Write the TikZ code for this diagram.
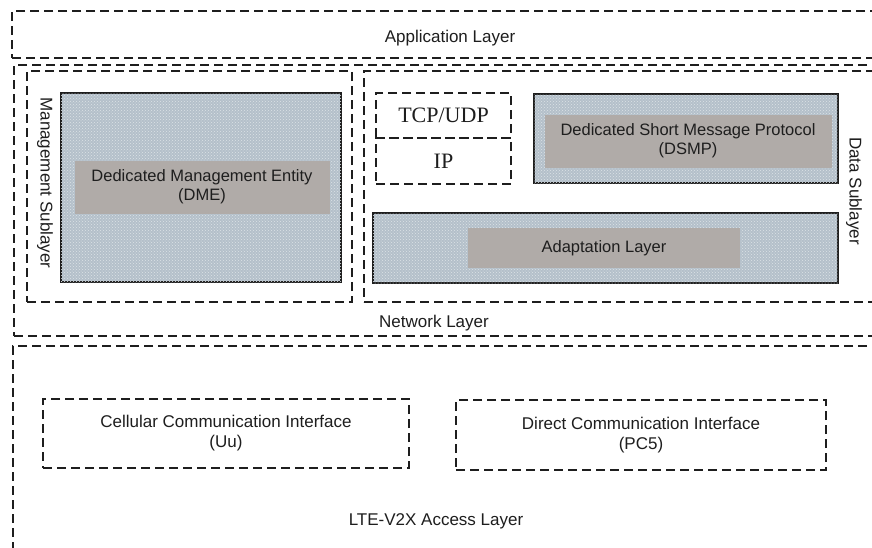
\documentclass[tikz,border=0pt]{standalone}
\usepackage{fontspec}
\setmainfont{Liberation Sans}
\newfontfamily\serifone{Liberation Serif}
\usetikzlibrary{patterns}
\definecolor{stip}{RGB}{180,192,202}
\definecolor{band}{RGB}{176,171,168}
\definecolor{ink}{RGB}{30,30,30}
\tikzset{
 dbox/.style={draw=ink, line width=2pt, dash pattern=on 9pt off 5pt, inner sep=0pt, anchor=north west},
 sbox/.style={draw=ink, line width=2.4pt, fill=stip, postaction={pattern=crosshatch dots, pattern color=white!55!stip}, inner sep=0pt, anchor=north west},
 bandlab/.style={fill=band, inner sep=0pt, font=\fontsize{16.5}{19}\selectfont, align=center, text=ink},
 lab/.style={font=\fontsize{17}{20}\selectfont, text=ink, align=center},
 sublab/.style={font=\fontsize{17}{20}\selectfont, text=ink, rotate=-90},
 serlab/.style={font=\serifone\fontsize{22}{24}\selectfont, text=ink}
}
\begin{document}
\begin{tikzpicture}[x=1pt,y=-1pt]
\useasboundingbox (0,0) rectangle (872,547);
\clip (0,0) rectangle (872,547);
\fill[white] (0,0) rectangle (872,547);
% Application layer
\node[dbox, minimum width=900pt, minimum height=47pt] (app) at (11,10) {};
\node[lab] (applab) at (450,38) {Application Layer};
% Network layer
\node[dbox, minimum width=900pt, minimum height=271pt] (net) at (13,64) {};
\node[lab] (netlab) at (434,323) {Network Layer};
% Management sublayer
\node[dbox, minimum width=325pt, minimum height=231pt] (mgmt) at (26,70) {};
\node[sublab] (mgmtlab) at (45,183) {Management Sublayer};
\node[sbox, minimum width=280pt, minimum height=189pt] (dme) at (60,92) {};
\node[bandlab, minimum width=255pt, minimum height=53pt] (dmeband) at (202,187) {Dedicated Management Entity\\(DME)};
% Data sublayer
\node[dbox, minimum width=560pt, minimum height=231pt] (data) at (363,70) {};
\node[sublab] (datalab) at (854,191) {Data Sublayer};
\node[dbox, minimum width=135pt, minimum height=45pt, serlab] (tcp) at (375,92) {TCP/UDP};
\node[dbox, minimum width=135pt, minimum height=46pt, serlab] (ip) at (375,137) {IP};
\node[sbox, minimum width=304pt, minimum height=89pt] (dsmp) at (533,93) {};
\node[bandlab, minimum width=287pt, minimum height=53pt] (dsmpband) at (688,141) {Dedicated Short Message Protocol\\(DSMP)};
\node[sbox, minimum width=465pt, minimum height=70pt] (adapt) at (372,212) {};
\node[bandlab, minimum width=272pt, minimum height=40pt] (adaptband) at (604,248) {Adaptation Layer};
% LTE-V2X access layer
\node[dbox, minimum width=900pt, minimum height=300pt] (lte) at (12,345) {};
\node[dbox, lab, minimum width=366pt, minimum height=69pt] (cell) at (42,398) {Cellular Communication Interface\\(Uu)};
\node[dbox, lab, minimum width=370pt, minimum height=70pt] (direct) at (455,399) {Direct Communication Interface\\(PC5)};
\node[lab] (ltelab) at (436,521) {LTE-V2X Access Layer};
\end{tikzpicture}
\end{document}
